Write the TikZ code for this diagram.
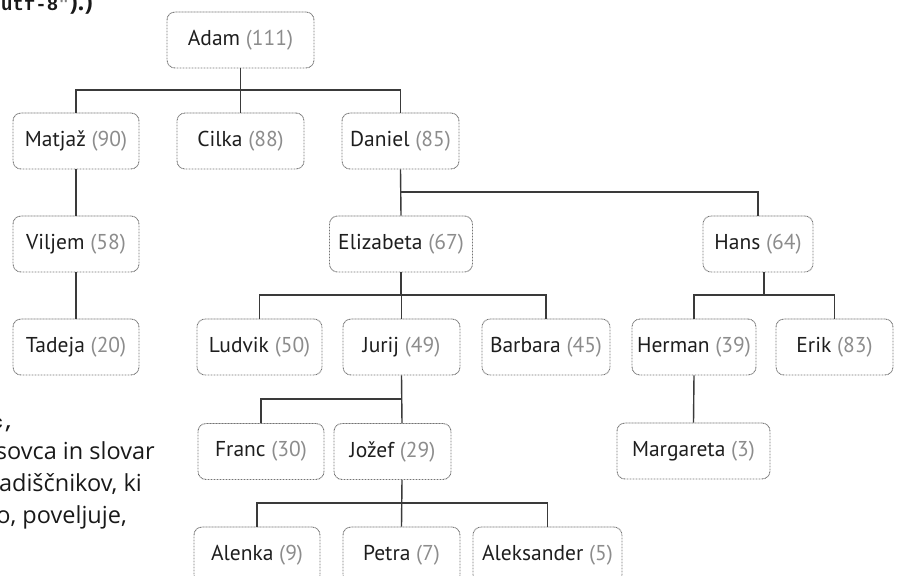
\documentclass[tikz,border=0pt]{standalone}
\usepackage{fontspec}
\setmainfont{PT Sans}
\newfontfamily\leftfont{Open Sans}
\newfontfamily\codefont{Liberation Mono}
\definecolor{namecol}{HTML}{1E1E1E}
\definecolor{numcol}{HTML}{8C8C8C}
\definecolor{boxcol}{HTML}{747474}
\definecolor{linecol}{HTML}{3A3A3A}
\newcommand{\pers}[2]{\textcolor{namecol}{#1}~\textcolor{numcol}{(#2)}}
\begin{document}
\begin{tikzpicture}[x=1pt,y=-1pt,
  person/.style={draw=boxcol, line width=0.9pt, dash pattern=on 0.9pt off 0.6pt,
    rounded corners=8pt, minimum height=56pt, minimum width=#1, inner sep=0pt,
    font=\fontsize{21.5}{25}\selectfont},
  person/.default=120pt,
  conn/.style={draw=linecol, line width=1.4pt},
  frag/.style={anchor=base east, inner sep=0pt, font=\leftfont\fontsize{23.5}{30}\selectfont, text=black!90},
  codefrag/.style={anchor=base east, inner sep=0pt, font=\codefont\bfseries\fontsize{19}{22}\selectfont, text=black!90}]
\useasboundingbox (0,0) rectangle (898,576);
\clip (0,0) rectangle (898,576);
\coordinate (h1) at (0,90);
\coordinate (h2) at (0,192);
\coordinate (h3) at (0,295);
\coordinate (h4) at (0,399);
\coordinate (h5) at (0,503);
% nodes
\node[person=147pt] (adam) at (240.5,40) {\pers{Adam}{111}};
\node[person=126pt] (matjaz) at (76,141) {\pers{Matjaž}{90}};
\node[person=127pt] (cilka) at (240.5,141) {\pers{Cilka}{88}};
\node[person=117pt] (daniel) at (400.5,141) {\pers{Daniel}{85}};
\node[person=126pt] (viljem) at (76,244) {\pers{Viljem}{58}};
\node[person=143pt] (elizabeta) at (401,244) {\pers{Elizabeta}{67}};
\node[person=110pt] (hans) at (758,244) {\pers{Hans}{64}};
\node[person=126pt] (tadeja) at (76,347) {\pers{Tadeja}{20}};
\node[person=125pt] (ludvik) at (259.5,347) {\pers{Ludvik}{50}};
\node[person=117pt] (jurij) at (401.5,347) {\pers{Jurij}{49}};
\node[person=128pt] (barbara) at (546,347) {\pers{Barbara}{45}};
\node[person=124pt] (herman) at (694,347) {\pers{Herman}{39}};
\node[person=117pt] (erik) at (834.5,347) {\pers{Erik}{83}};
\node[person=126pt] (franc) at (261,451.5) {\pers{Franc}{30}};
\node[person=117pt] (jozef) at (392.5,451.5) {\pers{Jožef}{29}};
\node[person=153pt] (margareta) at (693.5,451) {\pers{Margareta}{3}};
\node[person=126pt] (alenka) at (257,555) {\pers{Alenka}{9}};
\node[person=117pt] (petra) at (401.5,555) {\pers{Petra}{7}};
\node[person=149pt] (aleksander) at (547.5,555) {\pers{Aleksander}{5}};
% connectors
\draw[conn] (adam.south) -- (adam.south |- h1);
\draw[conn] (matjaz.north) |- (daniel.north |- h1) -- (daniel.north);
\draw[conn] (cilka.north) -- (cilka.north |- h1);
\draw[conn] (matjaz.south) -- (viljem.north);
\draw[conn] (viljem.south) -- (tadeja.north);
\draw[conn] (daniel.south) -- (elizabeta.north);
\draw[conn] (daniel.south |- h2) -| (hans.north);
\draw[conn] (elizabeta.south) -- (elizabeta.south |- h3);
\draw[conn] (ludvik.north) |- (barbara.north |- h3) -- (barbara.north);
\draw[conn] (jurij.north) -- (jurij.north |- h3);
\draw[conn] ([xshift=6pt]hans.south) -- ([xshift=6pt]hans.south |- h3);
\draw[conn] (herman.north) |- (erik.north |- h3) -- (erik.north);
\draw[conn] (herman.south) -- (margareta.north);
\draw[conn] (jurij.south) -- ([xshift=9.5pt]jozef.north);
\draw[conn] (franc.north) |- (jurij.south |- h4);
\draw[conn] ([xshift=9.5pt]jozef.south) -- (petra.north);
\draw[conn] (alenka.north) |- (aleksander.north |- h5) -- (aleksander.north);
% text fragments
\node[anchor=base west, inner sep=0pt, text=black!90] (top) at (1,10)
  {{\codefont\bfseries\fontsize{19}{22}\selectfont utf-8\textcolor{gray}{"}}{\leftfont\bfseries\fontsize{24}{30}\selectfont ).)}};
\node[codefrag] (c1) at (15,428) {c,};
\node[frag] (t1) at (155,459) {sovca in slovar};
\node[frag] (t2) at (142,491.7) {adiščnikov, ki};
\node[frag] (t3) at (127,523.3) {o, poveljuje,};
\end{tikzpicture}
\end{document}
